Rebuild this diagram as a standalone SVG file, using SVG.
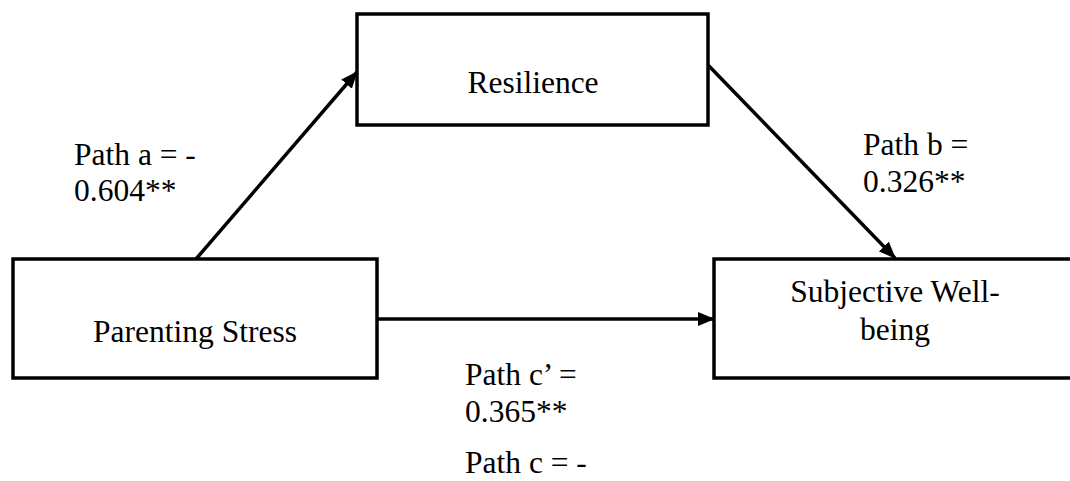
<svg xmlns="http://www.w3.org/2000/svg" width="1070" height="481" viewBox="0 0 1070 481">
<defs>
<marker id="ah" markerWidth="17" markerHeight="14" refX="16" refY="7" orient="auto" markerUnits="userSpaceOnUse">
<path d="M0,0 L17,7 L0,14 Z" fill="#000"/>
</marker>
<style>
.box{fill:#fff;stroke:#000;stroke-width:3.5}
.lbl{font-family:"Liberation Serif","Times New Roman",serif;font-size:31.5px;fill:#000}
.c{text-anchor:middle}
.edge{stroke:#000;stroke-width:3.5;fill:none}
</style>
</defs>
<rect width="1070" height="481" fill="#fff"/>
<g id="connectors">
<line class="edge" x1="196" y1="259" x2="357" y2="72" marker-end="url(#ah)"/>
<line class="edge" x1="708" y1="65" x2="895" y2="258" marker-end="url(#ah)"/>
<line class="edge" x1="377" y1="319" x2="714" y2="319" marker-end="url(#ah)"/>
</g>
<g id="resilience">
<rect class="box" x="357" y="14" width="351" height="111"/>
<text class="lbl c" x="533" y="93">Resilience</text>
</g>
<g id="parenting-stress">
<rect class="box" x="13" y="259" width="364" height="119"/>
<text class="lbl c" x="195" y="342">Parenting Stress</text>
</g>
<g id="subjective-wellbeing">
<rect class="box" x="714" y="259" width="362" height="119"/>
<text class="lbl c" x="895" y="302">Subjective Well-</text>
<text class="lbl c" x="895" y="340">being</text>
</g>
<g id="labels">
<text class="lbl" x="74" y="165">Path a = -</text>
<text class="lbl" x="74" y="201">0.604**</text>
<text class="lbl" x="863" y="155">Path b =</text>
<text class="lbl" x="863" y="192">0.326**</text>
<text class="lbl" x="465" y="385">Path c’ =</text>
<text class="lbl" x="465" y="422">0.365**</text>
<text class="lbl" x="465" y="473">Path c = -</text>
</g>
</svg>
